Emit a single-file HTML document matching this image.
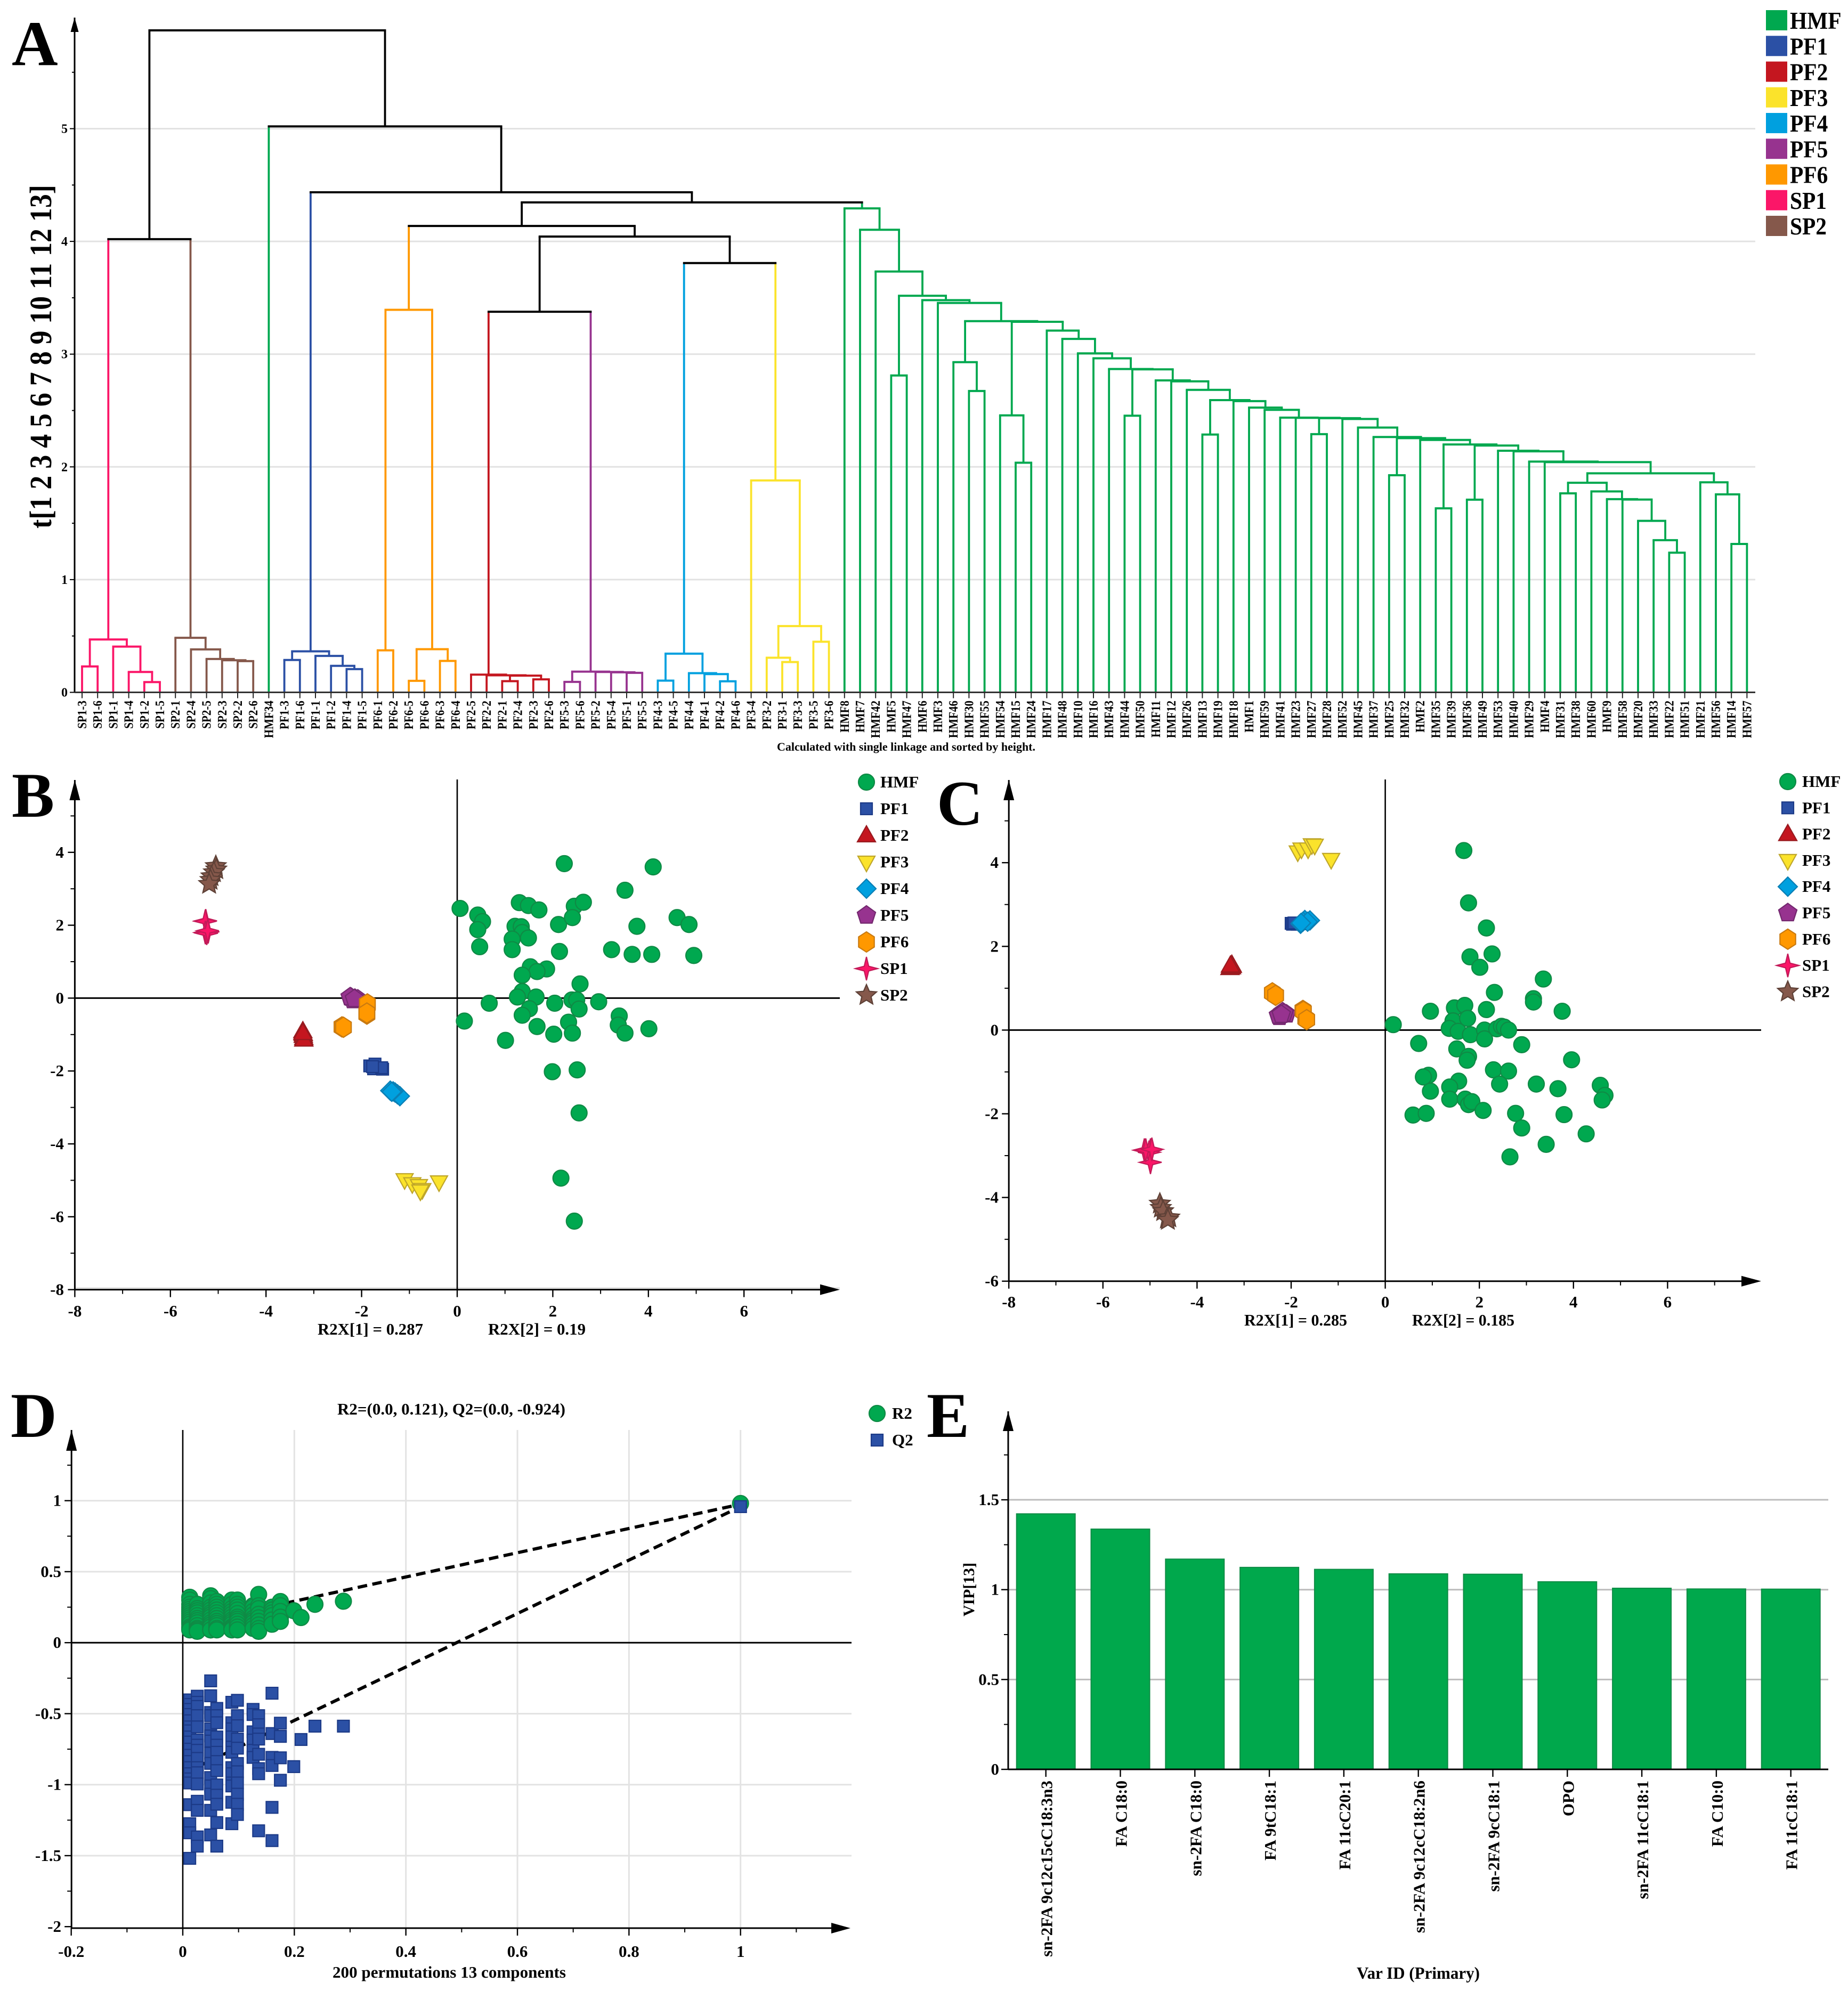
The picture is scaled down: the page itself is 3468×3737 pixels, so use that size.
<!DOCTYPE html>
<html lang="en">
<head>
<meta charset="utf-8">
<title>Multivariate analysis figure</title>
<style>
html,body{margin:0;padding:0;background:#fff;}
svg{display:block;width:3468px;height:3737px;}
text{font-family:"Liberation Serif",serif;font-weight:bold;fill:#000;}
</style>
</head>
<body>
<svg id="figure" xmlns="http://www.w3.org/2000/svg" width="3468" height="3737" viewBox="0 0 3468 3737"></svg>
<script>
/* ---------- Panel A: dendrogram values, each node is [left, right, height] ---------- */
const treeSP1=[['SP1-3','SP1-6',0.23],['SP1-1',['SP1-4',['SP1-2','SP1-5',0.091],0.181],0.406],0.469];
const treeSP2=['SP2-1',['SP2-4',['SP2-5',['SP2-3',['SP2-2','SP2-6',0.277],0.285],0.296],0.381],0.484];
const treePF1=[['PF1-3','PF1-6',0.287],['PF1-1',['PF1-2',['PF1-4','PF1-5',0.206],0.235],0.323],0.364];
const treePF6=[['PF6-1','PF6-2',0.373],[['PF6-5','PF6-6',0.102],['PF6-3','PF6-4',0.279],0.383],3.393];
const treePF2=['PF2-5',['PF2-2',[['PF2-1','PF2-4',0.099],['PF2-3','PF2-6',0.115],0.148],0.151],0.157];
const treePF5=[['PF5-3','PF5-6',0.093],['PF5-2',['PF5-4',['PF5-1','PF5-5',0.173],0.178],0.181],0.184];
const treePF4=[['PF4-3','PF4-5',0.104],['PF4-4',['PF4-1',['PF4-2','PF4-6',0.098],0.162],0.17],0.343];
const treePF3=['PF3-4',[['PF3-2',['PF3-1','PF3-3',0.269],0.307],['PF3-5','PF3-6',0.449],0.588],1.88];
const hmfA=[['HMF31','HMF38',1.765],['HMF60',['HMF9',['HMF58',['HMF20',['HMF33',['HMF22','HMF51',1.239],1.35],1.521],1.71],1.714],1.782],1.859];
const hmfB=['HMF21',['HMF56',['HMF14','HMF57',1.316],1.756],1.863];
const hmfC=[hmfA,hmfB,1.943];
const hmfD=['HMF29',['HMF4',hmfC,2.042],2.047];
const hmfE=['HMF53',['HMF40',hmfD,2.138],2.143];
const hmfF=[['HMF36','HMF49',1.709],hmfE,2.189];
const hmfG=[['HMF35','HMF39',1.632],hmfF,2.199];
const hmfH=['HMF2',hmfG,2.239];
const hmfI=[['HMF25','HMF32',1.926],hmfH,2.255];
const hmfJ=['HMF37',hmfI,2.265];
const hmfK=['HMF45',hmfJ,2.349];
const hmfL=['HMF52',hmfK,2.425];
const hmfM=[['HMF27','HMF28',2.29],hmfL,2.432];
const hmfN=['HMF23',hmfM,2.435];
const hmfO=['HMF41',hmfN,2.437];
const hmfP=['HMF59',hmfO,2.506];
const hmfQ=['HMF1',hmfP,2.526];
const hmfR=['HMF18',hmfQ,2.583];
const hmfS=[['HMF13','HMF19',2.287],hmfR,2.592];
const hmfT=['HMF26',hmfS,2.683];
const hmfU=['HMF12',hmfT,2.759];
const hmfV=['HMF11',hmfU,2.767];
const hmfW=[['HMF44','HMF50',2.454],hmfV,2.865];
const hmfX=['HMF43',hmfW,2.868];
const hmfY=['HMF16',hmfX,2.963];
const hmfZ=['HMF10',hmfY,3.007];
const hmfAA=['HMF48',hmfZ,3.135];
const hmfAB=['HMF17',hmfAA,3.209];
const hmfAC=[['HMF54',['HMF15','HMF24',2.037],2.457],hmfAB,3.287];
const hmfAD=[['HMF46',['HMF30','HMF55',2.673],2.929],hmfAC,3.293];
const hmfAE=['HMF3',hmfAD,3.454];
const hmfAF=['HMF6',hmfAE,3.479];
const hmfAG=[['HMF5','HMF47',2.811],hmfAF,3.518];
const hmfAH=['HMF42',hmfAG,3.733];
const hmfAI=['HMF7',hmfAH,4.103];
const treeHMF=['HMF8',hmfAI,4.293];
const treeSP=[treeSP1,treeSP2,4.02];
const treePF25=[treePF2,treePF5,3.376];
const treePF43=[treePF4,treePF3,3.808];
const treeMid=[treePF25,treePF43,4.043];
const treeMid2=[treePF6,treeMid,4.137];
const treeMid3=[treeMid2,treeHMF,4.346];
const treeMid4=[treePF1,treeMid3,4.436];
const treeMid5=['HMF34',treeMid4,5.02];
const treeRoot=[treeSP,treeMid5,5.872];
const dendroTicks=[0,1,2,3,4,5];
const dendroMinorTicks=[0.5,1.5,2.5,3.5,4.5,5.5];

/* ---------- Groups ---------- */
const groupNames=['HMF','PF1','PF2','PF3','PF4','PF5','PF6','SP1','SP2'];
const groupFill=['#00a84f','#2b50a5','#c4161f','#fbe32b','#00a0df','#97338f','#ff9800','#fb1668','#85584b'];
const groupEdge=['#0f8a45','#1c3a87','#991a1f','#bfa62a','#0a7fb5','#74286f','#c97a10','#c31a58','#5e4137'];
const groupShape=['circle','square','triUp','triDown','diamond','pentagon','hexagon','star4','star5'];

/* ---------- Panel B: score values ---------- */
const bHMF=[[.06,2.46],[.43,2.28],[.53,2.10],[.43,1.88],[.47,1.41],[1.30,2.62],[1.49,2.54],[1.71,2.42],[2.45,2.52],[2.64,2.63],[2.24,3.69],[4.10,3.60],[3.51,2.96],[2.12,2.02],[2.41,2.21],[4.60,2.21],[4.85,2.02],[3.76,1.97],[1.21,1.97],[1.34,1.96],[1.36,1.80],[1.15,1.62],[1.49,1.65],[1.15,1.33],[2.14,1.28],[3.23,1.33],[3.66,1.20],[4.07,1.20],[4.95,1.17],[1.53,.86],[1.87,.80],[1.67,.73],[1.36,.63],[2.57,.39],[1.36,.18],[1.26,.03],[1.65,.03],[2.40,-.05],[2.50,-.05],[2.04,-.14],[2.96,-.10],[.67,-.14],[2.55,-.30],[1.51,-.29],[1.36,-.47],[.15,-.63],[1.67,-.78],[2.33,-.66],[2.41,-.96],[2.02,-.99],[3.39,-.49],[3.37,-.74],[3.51,-.96],[4.01,-.84],[1.01,-1.16],[1.99,-2.02],[2.51,-1.97],[2.55,-3.15],[2.17,-4.94],[2.45,-6.12]];
const bPF1=[[-1.83,-1.86],[-1.72,-1.81],[-1.75,-1.94],[-1.56,-1.95],[-1.58,-1.91],[-1.77,-1.88]];
const bPF2=[[-3.23,-.91],[-3.22,-.99],[-3.22,-1.04],[-3.21,-1.10],[-3.21,-1.14],[-3.23,-.96]];
const bPF3=[[-1.10,-4.98],[-.94,-5.09],[-.80,-5.14],[-.73,-5.25],[-.77,-5.29],[-.38,-5.04]];
const bPF4=[[-1.40,-2.54],[-1.30,-2.59],[-1.25,-2.64],[-1.20,-2.69],[-1.34,-2.56],[-1.37,-2.57]];
const bPF5=[[-2.22,.02],[-2.14,-.01],[-2.08,-.03],[-2.18,-.05],[-2.24,.03],[-2.15,-.02]];
const bPF6=[[-1.88,-.19],[-1.89,-.44],[-2.41,-.79],[-2.38,-.80],[-1.88,-.16],[-1.89,-.41]];
const bSP1=[[-5.26,2.12],[-5.27,2.11],[-5.21,1.82],[-5.27,1.80],[-5.24,1.78],[-5.22,1.85]];
const bSP2=[[-5.05,3.62],[-5.04,3.53],[-5.09,3.45],[-5.14,3.34],[-5.16,3.24],[-5.19,3.13]];
const bXTicks=[-8,-6,-4,-2,0,2,4,6];
const bXMinor=[-7,-5,-3,-1,1,3,5,7];
const bYTicks=[-8,-6,-4,-2,0,2,4];
const bYMinor=[-7,-5,-3,-1,1,3,5];

/* ---------- Panel C: score values ---------- */
const cHMF=[[1.67,4.29],[1.77,3.04],[2.15,2.44],[1.80,1.75],[2.27,1.82],[2.01,1.50],[3.36,1.22],[2.32,.90],[3.15,.75],[3.15,.67],[3.76,.45],[.96,.45],[1.47,.53],[1.69,.59],[2.15,.49],[1.44,.22],[1.75,.28],[.17,.13],[1.36,.04],[1.55,-.03],[1.81,-.11],[2.11,0],[2.11,-.21],[2.37,.03],[2.47,.09],[2.53,.07],[2.62,0],[.71,-.32],[2.90,-.35],[1.52,-.45],[1.77,-.63],[1.74,-.72],[3.96,-.71],[2.30,-.95],[2.62,-.98],[.92,-1.08],[.81,-1.12],[1.56,-1.22],[2.43,-1.29],[3.21,-1.29],[3.67,-1.40],[4.57,-1.32],[4.67,-1.56],[4.61,-1.67],[1.37,-1.36],[.96,-1.46],[1.37,-1.65],[1.70,-1.65],[1.77,-1.78],[1.84,-1.71],[2.08,-1.92],[.59,-2.03],[.87,-1.99],[2.77,-1.99],[3.80,-2.02],[2.90,-2.34],[4.27,-2.48],[3.42,-2.73],[2.65,-3.03]];
const cPF1=[[-2.00,2.55],[-1.91,2.55],[-1.82,2.54],[-1.97,2.53],[-1.87,2.53],[-1.94,2.56]];
const cPF2=[[-3.28,1.52],[-3.26,1.56],[-3.30,1.48],[-3.27,1.50],[-3.25,1.53],[-3.29,1.54]];
const cPF3=[[-1.86,4.26],[-1.78,4.33],[-1.64,4.33],[-1.56,4.43],[-1.50,4.42],[-1.15,4.08]];
const cPF4=[[-1.80,2.54],[-1.71,2.63],[-1.60,2.62],[-1.75,2.59],[-1.65,2.59],[-1.79,2.56]];
const cPF5=[[-2.25,.32],[-2.18,.43],[-2.10,.38],[-2.27,.35],[-2.15,.40],[-2.21,.37]];
const cPF6=[[-2.40,.89],[-2.33,.83],[-1.75,.47],[-1.69,.27],[-1.74,.45],[-1.67,.25]];
const cSP1=[[-5.12,-2.87],[-4.99,-2.87],[-5.02,-2.92],[-4.99,-3.16],[-5.09,-2.87],[-4.96,-2.85]];
const cSP2=[[-4.79,-4.15],[-4.77,-4.25],[-4.72,-4.33],[-4.64,-4.51],[-4.59,-4.48],[-4.62,-4.54]];
const cYTicks=[-6,-4,-2,0,2,4];
const cYMinor=[-5,-3,-1,1,3,5];

/* ---------- Panel D: permutation values ---------- */
const permX=[.0125,.026,.05,.061,.088,.098,.126,.136,.16,.175,.199,.212,.237,.288,1];
const r2Values=[
[.32,.30,.27,.25,.235,.22,.205,.19,.175,.16,.145,.13,.11,.10,.09],
[.27,.24,.225,.21,.19,.17,.155,.14,.12,.10,.09,.08],
[.33,.31,.28,.25,.23,.21,.195,.18,.16,.14,.125,.11,.09,.09],
[.29,.27,.25,.23,.21,.19,.17,.15,.135,.12,.10,.09],
[.30,.27,.24,.22,.20,.18,.16,.145,.13,.11,.10,.09],
[.30,.27,.25,.23,.205,.18,.165,.15,.13,.11,.09],
[.26,.25,.22,.195,.17,.155,.14,.12,.10],
[.34,.26,.24,.20,.175,.15,.125,.10,.08],
[.25,.23,.21,.19,.16,.13],
[.29,.26,.22,.18,.15],
[.225],[.177],[.27],[.292],[.98]];
const q2Values=[
[-.403,-.435,-.47,-.506,-.55,-.593,-.621,-.664,-.70,-.75,-.793,-.837,-.88,-.923,-.959,-.988,-1.141,-1.275,-1.339,-1.519],
[-.377,-.42,-.449,-.514,-.593,-.686,-.722,-.758,-.815,-.88,-.916,-.995,-1.117,-1.181,-1.368,-1.433],
[-.269,-.374,-.492,-.514,-.607,-.657,-.693,-.779,-.85,-.95,-1.009,-1.067,-1.181,-1.354],
[-.463,-.514,-.564,-.664,-.722,-.772,-.837,-.901,-1.002,-1.074,-1.138,-1.267,-1.433],
[-.42,-.564,-.607,-.664,-.736,-.772,-.88,-.923,-.988,-1.009,-1.124,-1.275],
[-.406,-.514,-.585,-.679,-.743,-.851,-.909,-.988,-1.067,-1.138,-1.21],
[-.47,-.506,-.628,-.686,-.758,-.808],
[-.514,-.578,-.643,-.679,-.786,-.887,-.923,-1.325],
[-.356,-.64,-.808,-.865,-1.16,-1.394],
[-.567,-.66,-.811,-.969],
[-.873],[-.682],[-.588],[-.588],[.958]];
const r2LineX=[0,1];
const r2LineY=[.121,.975];
const q2LineX=[0,1];
const q2LineY=[-.924,.958];
const dXTicks=[-.2,0,.2,.4,.6,.8,1];
const dXTickText=['-0.2','0','0.2','0.4','0.6','0.8','1'];
const dXMinor=[-.1,.1,.3,.5,.7,.9,1.1];
const dYTicks=[-2,-1.5,-1,-.5,0,.5,1];
const dYTickText=['-2','-1.5','-1','-0.5','0','0.5','1'];
const dYMinor=[-1.75,-1.25,-.75,-.25,.25,.75,1.25];
const dXGrid=[.2,.4,.6,.8,1];
const dYGrid=[-1.5,-1,-.5,.5,1];

/* ---------- Panel E: VIP values ---------- */
const vipNames=['sn-2FA 9c12c15cC18:3n3','FA C18:0','sn-2FA C18:0','FA 9tC18:1','FA 11cC20:1','sn-2FA 9c12cC18:2n6','sn-2FA 9cC18:1','OPO','sn-2FA 11cC18:1','FA C10:0','FA 11cC18:1'];
const vipValues=[1.422,1.337,1.170,1.124,1.113,1.088,1.086,1.044,1.008,1.004,1.003];
const eYTicks=[0,.5,1,1.5];
const eYTickText=['0','0.5','1','1.5'];
const eYMinor=[.25,.75,1.25,1.75];

/* ---------- Drawing helpers ---------- */
const NS='http://www.w3.org/2000/svg';
const svg=document.getElementById('figure');
function add(parent,tag,attrs,name){
  const el=document.createElementNS(NS,tag);
  for(const k in attrs){el.setAttribute(k,attrs[k]);}
  
  
  parent.appendChild(el);
  return el;
}
function group(name){return add(svg,'g',{},name);}
function seg(p,x1,y1,x2,y2,stroke,w,name,extra){
  return add(p,'line',Object.assign({x1:x1,y1:y1,x2:x2,y2:y2,stroke:stroke,'stroke-width':w},extra||{}),name);
}
function label(p,name,str,x,y,size,o){
  o=o||{};
  const a={'font-size':size,'text-anchor':o.anchor||'start'};
  let tr='translate('+x+' '+y+')';
  if(o.rot){tr+=' rotate(-90)';}
  if(o.sx){tr+=' scale('+o.sx+' 1)';}
  a.transform=tr;
  if(o.len){a.textLength=o.len;a.lengthAdjust='spacingAndGlyphs';}
  const el=add(p,'text',a,name);
  el.textContent=str;
  return el;
}
function poly(p,pts,name){return add(p,'polygon',{points:pts.map(function(q){return q[0].toFixed(1)+','+q[1].toFixed(1);}).join(' ')},name);}
function radial(cx,cy,n,rx,ry,rot,inner){
  const pts=[];
  const m=inner?n*2:n;
  for(let i=0;i<m;i++){
    const ang=rot+i*2*Math.PI/m;
    const f=inner&&i%2===1?inner:1;
    pts.push([cx+Math.sin(ang)*rx*f,cy-Math.cos(ang)*ry*f]);
  }
  return pts;
}
function marker(p,idx,cx,cy,name){
  const shape=groupShape[idx];
  let el;
  if(shape==='circle'){el=add(p,'circle',{cx:cx,cy:cy,r:15},name);}
  else if(shape==='square'){el=add(p,'rect',{x:cx-11,y:cy-11,width:22,height:22},name);}
  else if(shape==='triUp'){el=poly(p,[[cx,cy-18],[cx+17,cy+12],[cx-17,cy+12]],name);}
  else if(shape==='triDown'){el=poly(p,[[cx,cy+18],[cx+16,cy-11],[cx-16,cy-11]],name);}
  else if(shape==='diamond'){el=poly(p,[[cx,cy-18],[cx+18,cy],[cx,cy+18],[cx-18,cy]],name);}
  else if(shape==='pentagon'){el=poly(p,radial(cx,cy,5,18,18,0),name);}
  else if(shape==='hexagon'){el=poly(p,radial(cx,cy,6,17,19,0),name);}
  else if(shape==='star4'){el=poly(p,radial(cx,cy,4,21,22,0,0.28),name);}
  else {el=poly(p,radial(cx,cy,5,20,20,0,0.46),name);}
  el.setAttribute('fill',groupFill[idx]);
  el.setAttribute('stroke',groupEdge[idx]);
  el.setAttribute('stroke-width','2.2');
  return el;
}

/* ---------- Panel letters ---------- */
const lettersG=group('panel-letters');
label(lettersG,'panel-letter-a','A',22,122,120);
label(lettersG,'panel-letter-b','B',22,1533,120);
label(lettersG,'panel-letter-c','C',1758,1548,120);
label(lettersG,'panel-letter-d','D',20,2697,120);
label(lettersG,'panel-letter-e','E',1739,2697,120);

/* ---------- Panel A ---------- */
(function(){
  const g=group('panel-a-dendrogram');
  const ax=140, base=1299.5, unit=211.6, right=3294;
  const yA=function(h){return base-unit*h;};
  const xLeaf=function(i){return 154+29.2*i;};
  dendroTicks.forEach(function(t){
    if(t>0){seg(g,ax,yA(t),right,yA(t),'#e2e2e2',3,'gridline-'+t);}
  });
  const leaves=[];
  function groupOf(leaf){return groupNames.indexOf(leaf.replace(/-\d+$/,'').replace(/^HMF\d+$/,'HMF'));}
  function walk(node){
    if(typeof node==='string'){
      const i=leaves.length;
      leaves.push(node);
      return {x:xLeaf(i),h:0,grp:groupOf(node),leaf:true};
    }
    const L=walk(node[0]);
    const R=walk(node[1]);
    const grp=(L.grp===R.grp)?L.grp:-1;
    return {x:(L.x+R.x)/2,h:node[2],grp:grp,L:L,R:R};
  }
  const rootNode=walk(treeRoot);
  const links=add(g,'g',{},'dendrogram-links');
  function col(c){return c<0?'#000':groupFill[c];}
  function drawNode(n){
    if(n.leaf){return;}
    drawNode(n.L);
    drawNode(n.R);
    const c=col(n.grp);
    const y=yA(n.h);
    seg(links,n.L.x,y,n.L.x,yA(n.L.h),col(n.L.grp),3.8,'dendrogram-leg');
    seg(links,n.R.x,y,n.R.x,yA(n.R.h),col(n.R.grp),3.8,'dendrogram-leg');
    seg(links,n.L.x-1.9,y,n.R.x+1.9,y,c,4,'dendrogram-link');
  }
  drawNode(rootNode);
  seg(g,ax,33,ax,base,'#000',3,'y-axis-line');
  poly(g,[[ax,33],[ax+7.5,60],[ax-7.5,60]],'y-axis-arrow');
  seg(g,ax,base,right,base,'#333',3,'x-axis-line');
  dendroTicks.forEach(function(t){
    seg(g,ax-9,yA(t),ax,yA(t),'#000',2,'y-tick-major');
    label(g,'y-tick-label',String(t),127,yA(t)+8,24,{anchor:'end'});
  });
  dendroMinorTicks.forEach(function(t){
    seg(g,ax-5,yA(t),ax,yA(t),'#000',2,'y-tick-minor');
  });
  leaves.forEach(function(name,i){
    const x=xLeaf(i);
    seg(g,x,base,x,base+11,'#222',2,'leaf-tick');
    label(g,'leaf-label',name,x+8,1315,24,{anchor:'end',rot:true,sx:0.88});
  });
  label(g,'y-axis-title','t[1 2 3 4 5 6 7 8 9 10 11 12 13]',96,992,58,{rot:true,len:645});
  label(g,'linkage-note','Calculated with single linkage and sorted by height.',1458,1409,22,{len:485});
  const lg=add(g,'g',{},'group-legend');
  groupNames.forEach(function(n,i){
    const y=19+48.25*i;
    add(lg,'rect',{x:3314,y:y,width:40,height:38,fill:groupFill[i]},'legend-swatch-'+n.toLowerCase());
    label(lg,'legend-label-'+n.toLowerCase(),n,3359,y+35,46,{sx:0.9});
  });
})();

/* ---------- Panels B and C ---------- */
function scorePlot(cfg){
  const g=group(cfg.name);
  const xs=function(v){return cfg.xz+cfg.xu*v;};
  const ys=function(v){return cfg.yz-cfg.yu*v;};
  const axX=xs(-8), bottom=ys(cfg.yMin);
  if(cfg.bottomGrid){seg(g,axX,bottom-3,cfg.right,bottom-3,'#e0e0e0',3,'bottom-gridline');}
  seg(g,axX,1464,axX,bottom,'#000',3,'y-axis-line');
  poly(g,[[axX,1464],[axX+10,1502],[axX-10,1502]],'y-axis-arrow');
  seg(g,axX,bottom,cfg.right-30,bottom,'#000',3,'x-axis-line');
  poly(g,[[cfg.right,bottom],[cfg.right-37,bottom-10],[cfg.right-37,bottom+10]],'x-axis-arrow');
  seg(g,xs(0),1463,xs(0),bottom,'#000',2.6,'zero-vertical-line');
  seg(g,axX,ys(0),cfg.right,ys(0),'#000',3,'zero-horizontal-line');
  bXTicks.forEach(function(t){
    seg(g,xs(t),bottom,xs(t),bottom+14,'#000',2.4,'x-tick-major');
    label(g,'x-tick-label',String(t),xs(t),cfg.xLabelY,31,{anchor:'middle'});
  });
  bXMinor.forEach(function(t){seg(g,xs(t),bottom,xs(t),bottom+8,'#000',2,'x-tick-minor');});
  cfg.yTicks.forEach(function(t){
    seg(g,axX-13,ys(t),axX,ys(t),'#000',2.4,'y-tick-major');
    label(g,'y-tick-label',String(t),cfg.yLabelX,ys(t)+10,31,{anchor:'end'});
  });
  cfg.yMinor.forEach(function(t){seg(g,axX-8,ys(t),axX,ys(t),'#000',2,'y-tick-minor');});
  cfg.series.forEach(function(pts,i){
    const sg=add(g,'g',{},'series-'+groupNames[i].toLowerCase());
    pts.forEach(function(p){marker(sg,i,xs(p[0]),ys(p[1]),groupNames[i].toLowerCase()+'-point');});
  });
  label(g,'x-caption-r2x1',cfg.cap1,cfg.cap1x,cfg.capY,31,{len:cfg.cap1w});
  label(g,'x-caption-r2x2',cfg.cap2,cfg.cap2x,cfg.capY,31,{len:cfg.cap2w});
  const lg=add(g,'g',{},'score-legend');
  groupNames.forEach(function(n,i){
    const y=cfg.legY+cfg.legStep*i;
    marker(lg,i,cfg.legX,y,'legend-marker-'+n.toLowerCase());
    label(lg,'legend-label-'+n.toLowerCase(),n,cfg.legTextX,y+10,31);
  });
}
scorePlot({name:'panel-b-score-plot',xz:858,xu:89.7,yz:1873.4,yu:68.4,yMin:-8,right:1576,bottomGrid:true,
  xLabelY:2471,yLabelX:120,yTicks:bYTicks,yMinor:bYMinor,
  series:[bHMF,bPF1,bPF2,bPF3,bPF4,bPF5,bPF6,bSP1,bSP2],
  cap1:'R2X[1] = 0.287',cap1x:596,cap1w:198,cap2:'R2X[2] = 0.19',cap2x:916,cap2w:183,capY:2505,
  legX:1626,legTextX:1652,legY:1468,legStep:50});
scorePlot({name:'panel-c-score-plot',xz:2599.6,xu:88.3,yz:1933.4,yu:78.55,yMin:-6,right:3305,bottomGrid:false,
  xLabelY:2454,yLabelX:1874,yTicks:cYTicks,yMinor:cYMinor,
  series:[cHMF,cPF1,cPF2,cPF3,cPF4,cPF5,cPF6,cSP1,cSP2],
  cap1:'R2X[1] = 0.285',cap1x:2335,cap1w:193,cap2:'R2X[2] = 0.185',cap2x:2650,cap2w:192,capY:2488,
  legX:3355,legTextX:3382,legY:1467,legStep:49.3});

/* ---------- Panel D ---------- */
(function(){
  const g=group('panel-d-permutation-plot');
  const xs=function(v){return 343+1046.7*v;};
  const ys=function(v){return 3083.2-266.5*v;};
  const axX=xs(-.2)+0.5, top=2684, bottom=3619, right=1598;
  dXGrid.forEach(function(t){seg(g,xs(t),top,xs(t),bottom,'#e3e3e3',3,'vertical-gridline');});
  dYGrid.forEach(function(t){seg(g,axX,ys(t),right,ys(t),'#e3e3e3',3,'horizontal-gridline');});
  seg(g,axX,top,axX,bottom,'#000',3,'y-axis-line');
  poly(g,[[axX,top],[axX+10,top+39],[axX-10,top+39]],'y-axis-arrow');
  seg(g,axX,bottom,1566,bottom,'#000',3,'x-axis-line');
  poly(g,[[1596,bottom],[1560,bottom-10],[1560,bottom+10]],'x-axis-arrow');
  seg(g,xs(0),top,xs(0),bottom,'#000',2.6,'zero-vertical-line');
  seg(g,axX,ys(0),right,ys(0),'#000',3,'zero-horizontal-line');
  dXTicks.forEach(function(t,i){
    seg(g,xs(t),bottom,xs(t),bottom+14,'#000',2.4,'x-tick-major');
    label(g,'x-tick-label',dXTickText[i],xs(t),3673,31,{anchor:'middle'});
  });
  dXMinor.forEach(function(t){seg(g,xs(t),bottom,xs(t),bottom+8,'#000',2,'x-tick-minor');});
  dYTicks.forEach(function(t,i){
    seg(g,axX-13,ys(t),axX,ys(t),'#000',2.4,'y-tick-major');
    label(g,'y-tick-label',dYTickText[i],115,ys(t)+10,31,{anchor:'end'});
  });
  dYMinor.forEach(function(t){seg(g,axX-8,ys(t),axX,ys(t),'#000',2,'y-tick-minor');});
  seg(g,xs(r2LineX[0]),ys(r2LineY[0]),xs(r2LineX[1]),ys(r2LineY[1]),'#000',6,'r2-trend-line',{'stroke-dasharray':'18 10'});
  seg(g,xs(q2LineX[0]),ys(q2LineY[0]),xs(q2LineX[1]),ys(q2LineY[1]),'#000',6,'q2-trend-line',{'stroke-dasharray':'18 10'});
  const rg=add(g,'g',{},'series-r2');
  r2Values.forEach(function(col,i){
    col.forEach(function(v){marker(rg,0,xs(permX[i]),ys(v),'r2-point');});
  });
  const qg=add(g,'g',{},'series-q2');
  q2Values.forEach(function(col,i){
    col.forEach(function(v){marker(qg,1,xs(permX[i]),ys(v),'q2-point');});
  });
  label(g,'permutation-title','R2=(0.0, 0.121), Q2=(0.0, -0.924)',633,2655,31,{len:428});
  label(g,'x-axis-title','200 permutations 13 components',624,3712,31,{len:438});
  marker(g,0,1646,2653,'legend-marker-r2');
  label(g,'legend-label-r2','R2',1674,2663,31);
  marker(g,1,1646,2703,'legend-marker-q2');
  label(g,'legend-label-q2','Q2',1674,2713,31);
})();

/* ---------- Panel E ---------- */
(function(){
  const g=group('panel-e-vip-bars');
  const ys=function(v){return 3321-337.3*v;};
  const xBar=function(i){return 1962.7+139.8*i;};
  const axX=1892, right=3431;
  eYTicks.forEach(function(t){
    if(t>0){seg(g,axX,ys(t),right,ys(t),'#bcbcbc',3,'gridline');}
  });
  vipValues.forEach(function(v,i){
    add(g,'rect',{x:xBar(i)-55,y:ys(v),width:110,height:ys(0)-ys(v),fill:'#00a84c',stroke:'#0d8c45','stroke-width':2},'bar-'+vipNames[i].toLowerCase().replace(/[^a-z0-9]+/g,'-'));
    seg(g,xBar(i),ys(0),xBar(i),ys(0)+14,'#000',2.4,'x-tick');
    label(g,'x-tick-label',vipNames[i],xBar(i)+12,3342,31,{anchor:'end',rot:true});
  });
  seg(g,axX,2649,axX,ys(0),'#000',3,'y-axis-line');
  poly(g,[[axX,2649],[axX+10,2686],[axX-10,2686]],'y-axis-arrow');
  seg(g,axX,ys(0),right,ys(0),'#000',3,'x-axis-line');
  eYTicks.forEach(function(t,i){
    seg(g,axX-13,ys(t),axX,ys(t),'#000',2.4,'y-tick-major');
    label(g,'y-tick-label',eYTickText[i],1875,ys(t)+10,31,{anchor:'end'});
  });
  eYMinor.forEach(function(t){seg(g,axX-8,ys(t),axX,ys(t),'#000',2,'y-tick-minor');});
  label(g,'y-axis-title','VIP[13]',1828,3034,30,{rot:true,len:101});
  label(g,'x-axis-title','Var ID (Primary)',2546,3714,32,{len:231});
})();
</script>
</body>
</html>
